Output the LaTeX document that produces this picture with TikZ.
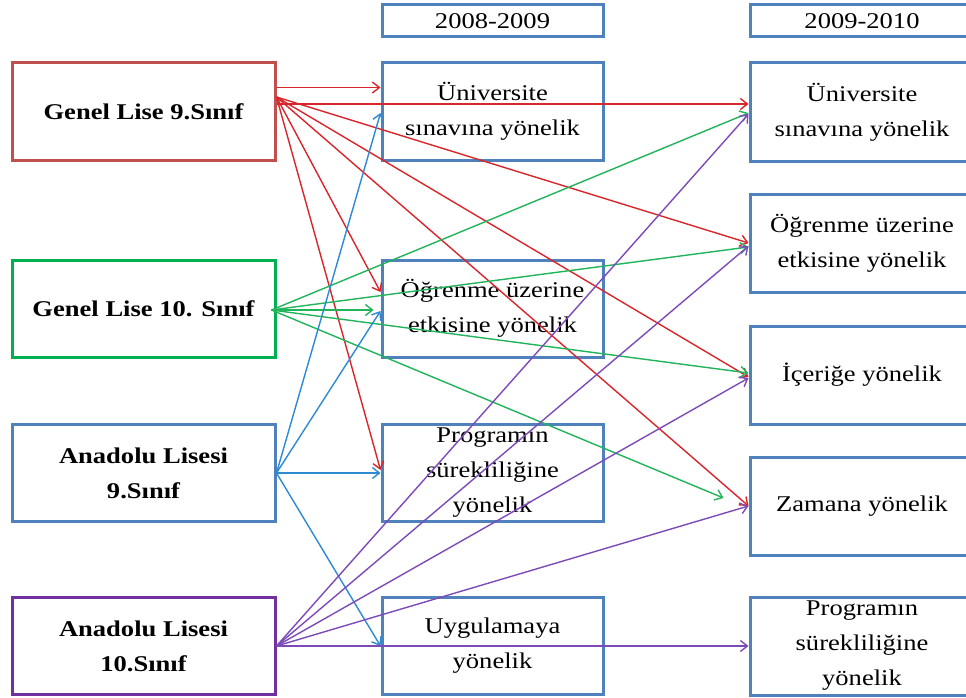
\documentclass[tikz,border=0pt]{standalone}
\usepackage{fontspec}
\setmainfont[FakeStretch=1.18]{Liberation Serif}
\usetikzlibrary{arrows.meta}
\definecolor{boxred}{HTML}{C0504D}
\definecolor{boxgreen}{HTML}{00B050}
\definecolor{boxblue}{HTML}{4F81BD}
\definecolor{boxpurple}{HTML}{7030A0}
\definecolor{ared}{HTML}{D9262B}
\definecolor{agreen}{HTML}{22B45A}
\definecolor{ablue}{HTML}{2C8BD3}
\definecolor{apurple}{HTML}{7D4BB9}
\tikzset{
  box/.style={draw=boxblue, line width=3pt, fill=white, inner sep=0pt, align=center,
    font=\fontsize{22.5}{35}\selectfont},
  leftbox/.style={box, minimum width=263pt, minimum height=97pt,
    font=\fontsize{22.5}{35}\selectfont\bfseries},
  midbox/.style={box, minimum width=221pt, minimum height=97pt},
  rightbox/.style={box, minimum width=224pt, minimum height=98pt},
  yearbox/.style={box, minimum height=32pt},
  conn/.style={line width=1.4pt, -{Straight Barb[length=7pt,width=11pt]}},
  rconn/.style={conn, draw=ared},
  gconn/.style={conn, draw=agreen},
  bconn/.style={conn, draw=ablue},
  pconn/.style={conn, draw=apurple}
}
\begin{document}
\begin{tikzpicture}[x=1pt,y=-1pt]
\clip (0,0) rectangle (966,698);
\fill[white] (0,0) rectangle (966,698);
% left column
\node[leftbox, draw=boxred] (GL9) at (143.5,111.5) {Genel Lise 9.Sınıf};
\node[leftbox, draw=boxgreen] (GL10) at (143.5,308.5) {Genel Lise 10. Sınıf};
\node[leftbox, draw=boxblue] (AL9) at (143.5,473) {Anadolu Lisesi\\9.Sınıf};
\node[leftbox, draw=boxpurple] (AL10) at (143.5,646) {Anadolu Lisesi\\10.Sınıf};
% middle column
\node[yearbox, minimum width=221pt] (Y8) at (492.5,21) {2008-2009};
\node[midbox] (U8) at (492.5,111.5) {Üniversite\\sınavına yönelik};
\node[midbox] (O8) at (492.5,308.5) {Öğrenme üzerine\\etkisine yönelik};
\node[midbox] (P8) at (492.5,473) {Programın\\sürekliliğine\\yönelik};
\node[midbox] (G8) at (492.5,646) {Uygulamaya\\yönelik};
% right column
\node[yearbox, minimum width=224pt] (Y9) at (862,21) {2009-2010};
\node[rightbox] (U9) at (862,112) {Üniversite\\sınavına yönelik};
\node[rightbox] (O9) at (862,243) {Öğrenme üzerine\\etkisine yönelik};
\node[rightbox] (I9) at (862,375) {İçeriğe yönelik};
\node[rightbox] (Z9) at (862,506) {Zamana yönelik};
\node[rightbox] (P9) at (862,646) {Programın\\sürekliliğine\\yönelik};
% origins
\coordinate (rO) at ([yshift=14.5pt]GL9.east);
\coordinate (gO) at ([xshift=-5pt,yshift=-1.5pt]GL10.east);
\coordinate (bO) at (AL9.east);
\coordinate (pO) at (AL10.east);
% red
\draw[rconn] ([yshift=24pt]GL9.east) -- ([yshift=24pt]U8.west);
\draw[rconn] ([yshift=7.5pt]GL9.east) -- ([yshift=8pt]U9.west);
\draw[rconn] (rO) -- (O9.west);
\draw[rconn] (rO) -- ([yshift=-2pt]I9.west);
\draw[rconn] (rO) -- (Z9.west);
\draw[rconn] (rO) -- ([yshift=16.5pt]O8.west);
\draw[rconn] (rO) -- ([yshift=3pt]P8.west);
% green
\draw[gconn] (gO) -- ([yshift=-1pt]U9.west);
\draw[gconn] (gO) -- ([yshift=-4pt]O9.west);
\draw[gconn] (gO) -- ([xshift=-7pt,yshift=-1.5pt]O8.west);
\draw[gconn] (gO) -- ([yshift=2pt]I9.west);
\draw[gconn] (gO) -- ([xshift=-25pt,yshift=8pt]Z9.west);
% blue
\draw[bconn] (bO) -- ([yshift=-1.5pt]U8.west);
\draw[bconn] (bO) -- ([yshift=-2.5pt]O8.west);
\draw[bconn] (bO) -- (P8.west);
\draw[bconn] (bO) -- (G8.west);
% purple
\draw[pconn] (pO) -- ([yshift=-2pt]U9.west);
\draw[pconn] (pO) -- ([yshift=-3pt]O9.west);
\draw[pconn] (pO) -- ([yshift=-3pt]I9.west);
\draw[pconn] (pO) -- (Z9.west);
\draw[pconn] (pO) -- (P9.west);
\end{tikzpicture}
\end{document}
